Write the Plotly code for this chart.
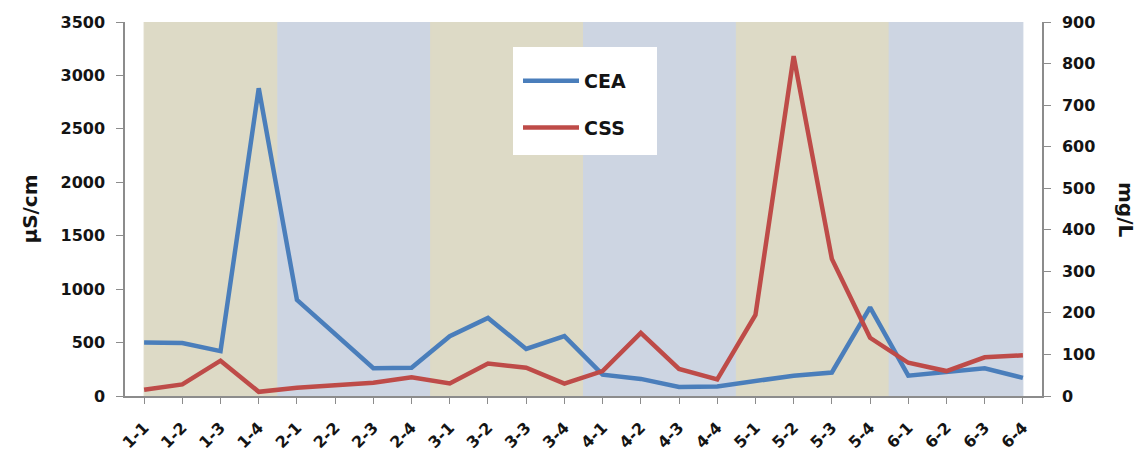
import plotly.graph_objects as go

# Sampling points: 6 campaigns x 4 stations
categories = [f"{g}-{s}" for g in range(1, 7) for s in range(1, 5)]

# Electrical conductivity (µS/cm), left axis
cea = [500, 495, 420, 2880, 900, 580, 260, 265,
       560, 730, 440, 560, 200, 160, 85, 90,
       140, 190, 220, 830, 190, 220, 260, 170]

# Suspended solids (mg/L), right axis
css = [15, 28, 85, 10, 20, 27, 32, 45,
       30, 78, 68, 30, 60, 152, 65, 40,
       195, 818, 330, 140, 80, 60, 93, 98]

BLUE = "#4A7EBB"
RED = "#BE4B48"
TAN = "#DDDAC6"
SKY = "#CDD5E2"
AXIS = "#8C8C8C"
FONT = "DejaVu Sans"
TXT = "#141414"

L, R, T, B, W, H = 125, 105, 22, 58, 1147, 454
PW, PH = W - L - R, H - T - B
Y_MAX = 3500

x = list(range(len(categories)))
n = len(categories)

fig = go.Figure()
fig.add_trace(go.Scatter(x=x, y=cea, name="CEA", mode="lines",
                         line=dict(color=BLUE, width=4.5), legendgroup="a"))
fig.add_trace(go.Scatter(x=x, y=css, name="CSS", mode="lines", yaxis="y2",
                         line=dict(color=RED, width=4.5), legendgroup="b"))

# Alternating shaded bands, one per campaign
for g in range(6):
    x0 = max(0, g * 4 - 0.5)
    x1 = min(n - 1, g * 4 + 3.5)
    color = TAN if g % 2 == 0 else SKY
    fig.add_shape(type="rect", xref="x", yref="y", x0=x0, x1=x1, y0=0, y1=Y_MAX,
                  fillcolor=color, line=dict(color=color, width=1), layer="below")

# Helpers converting pixel positions inside the plot area to axis units
def px_x(p):
    return (p - L) / PW

def px_y(p):
    return (H - B - p) / PH

def ax_x(p):
    return px_x(p) * n - 0.5

def ax_y(p):
    return px_y(p) * Y_MAX

# White panel behind the legend (drawn over the bands, under the lines)
fig.add_shape(type="rect", xref="x", yref="y",
              x0=ax_x(513), x1=ax_x(657), y0=ax_y(155), y1=ax_y(47),
              fillcolor="white", line_width=0, layer="below")

tickfont = dict(family=FONT, size=16, color=TXT, weight="bold")

fig.update_layout(
    width=W, height=H,
    margin=dict(l=L, r=R, t=T, b=B),
    paper_bgcolor="white", plot_bgcolor="white",
    font=dict(family=FONT, color=TXT),
    showlegend=True,
    legend=dict(x=px_x(518), y=px_y(62), xanchor="left", yanchor="top",
                bgcolor="rgba(0,0,0,0)", borderwidth=0, tracegroupgap=19,
                font=dict(family=FONT, size=19, color=TXT, weight="bold"),
                itemwidth=56),
    xaxis=dict(range=[-0.5, n - 0.5], tickmode="array", tickvals=x,
               ticktext=categories, tickangle=-45, tickson="boundaries",
               ticks="outside", ticklen=6, tickcolor=AXIS,
               showline=True, linecolor=AXIS, linewidth=2,
               showgrid=False, zeroline=False, automargin=False,
               ticklabelstandoff=8,
               tickfont=dict(family=FONT, size=16, color=TXT, weight="bold")),
    yaxis=dict(range=[0, Y_MAX], tickvals=list(range(0, Y_MAX + 1, 500)),
               ticks="outside", ticklen=7, tickcolor=AXIS,
               showline=True, linecolor=AXIS, linewidth=1.5,
               showgrid=False, zeroline=False, automargin=False,
               ticklabelstandoff=8,
               tickfont=tickfont,
               title=dict(text="µS/cm", font=dict(family=FONT, size=20, color=TXT, weight="bold"),
                          standoff=18)),
    yaxis2=dict(range=[0, 900], tickvals=list(range(0, 901, 100)),
                overlaying="y", side="right",
                ticks="outside", ticklen=7, tickcolor=AXIS,
                showline=True, linecolor=AXIS, linewidth=1.5,
                showgrid=False, zeroline=False, automargin=False,
                ticklabelstandoff=8,
                tickfont=tickfont),
)

# Right axis title, reading top to bottom
fig.add_annotation(text="mg/L", xref="paper", yref="paper", x=1.0, y=0.5,
                   xanchor="center", yanchor="middle",
                   xshift=84, showarrow=False, textangle=90,
                   font=dict(family=FONT, size=20, color=TXT, weight="bold"))

fig.write_html("out.html")
